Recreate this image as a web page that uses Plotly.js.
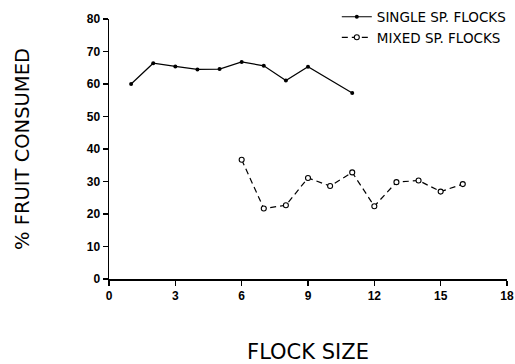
<!DOCTYPE html>
<html>
<head>
<meta charset="utf-8">
<script src="https://cdn.plot.ly/plotly-3.0.1.min.js"></script>
<style>html,body{margin:0;padding:0;background:#fff;}#chart{width:515px;height:364px;}</style>
</head>
<body>
<div id="chart"></div>
<script>
// Data
const singleFlockSize = [1, 2, 3, 4, 5, 6, 7, 8, 9, 11];
const singleFruitPct  = [60, 66.4, 65.4, 64.5, 64.6, 66.8, 65.6, 61.1, 65.3, 57.2];
const mixedFlockSize  = [6, 7, 8, 9, 10, 11, 12, 13, 14, 15, 16];
const mixedFruitPct   = [36.7, 21.7, 22.7, 31.1, 28.6, 32.8, 22.4, 29.8, 30.3, 26.9, 29.2];
const seriesNames = ["SINGLE SP. FLOCKS", "MIXED SP. FLOCKS"];
const xTicks = [0, 3, 6, 9, 12, 15, 18];
const yTicks = [0, 10, 20, 30, 40, 50, 60, 70, 80];

const titleFont = 'DejaVu Sans, Liberation Sans, sans-serif';
const tickFontFam = 'Liberation Sans, Arial, sans-serif';

const traces = [
  {
    x: singleFlockSize, y: singleFruitPct, name: seriesNames[0],
    type: 'scatter', mode: 'lines+markers',
    line: {color: '#000', width: 1.2, dash: 'solid'},
    marker: {color: '#000', size: 4, symbol: 'circle'}
  },
  {
    x: mixedFlockSize, y: mixedFruitPct, name: seriesNames[1],
    type: 'scatter', mode: 'lines+markers',
    line: {color: '#000', width: 1.2, dash: '6px,4px'},
    marker: {color: '#fff', size: 5, symbol: 'circle', line: {color: '#000', width: 1.1}}
  }
];

const layout = {
  width: 515, height: 364,
  margin: {l: 109, r: 8, t: 19, b: 85, autoexpand: false},
  paper_bgcolor: '#fff', plot_bgcolor: '#fff',
  font: {family: tickFontFam, color: '#000'},
  showlegend: true,
  legend: {
    xref: 'container', yref: 'container',
    x: 0.654, y: 0.996, xanchor: 'left', yanchor: 'top',
    bgcolor: 'rgba(0,0,0,0)',
    font: {size: 13.5, family: titleFont, color: '#000'},
    tracegroupgap: 0
  },
  xaxis: {
    range: [0, 18], tickvals: xTicks, ticktext: xTicks.map(String),
    showgrid: false, zeroline: false, showline: true, linecolor: '#000', linewidth: 1.5,
    ticks: 'outside', ticklen: 5, tickwidth: 1.5, tickcolor: '#000',
    tickfont: {size: 12, family: tickFontFam, weight: 'bold'},
    title: {text: 'FLOCK SIZE', font: {size: 21, family: titleFont}, standoff: 42}
  },
  yaxis: {
    range: [0, 80], tickvals: yTicks, ticktext: yTicks.map(String),
    showgrid: false, zeroline: false, showline: true, linecolor: '#000', linewidth: 1.5,
    ticks: 'outside', ticklen: 5, tickwidth: 1.5, tickcolor: '#000',
    tickfont: {size: 12, family: tickFontFam, weight: 'bold'},
    title: {text: '% FRUIT CONSUMED', font: {size: 19.5, family: titleFont}, standoff: 52}
  }
};

Plotly.newPlot('chart', traces, layout, {displayModeBar: false, staticPlot: true});
</script>
</body>
</html>
